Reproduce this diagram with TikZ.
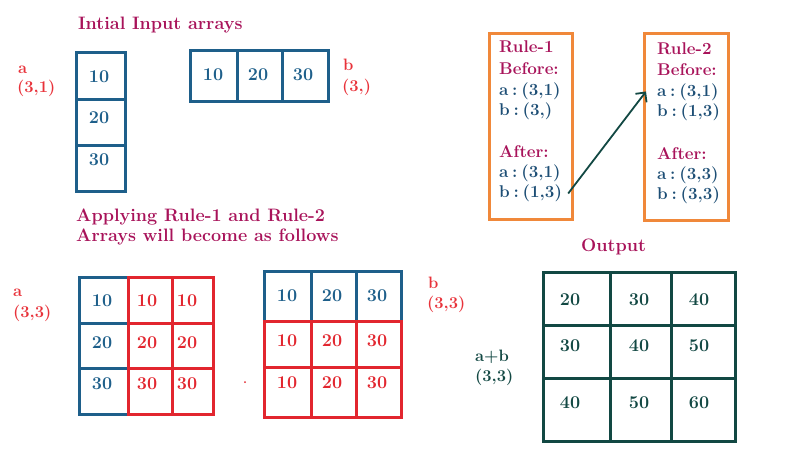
\documentclass[tikz,border=0pt]{standalone}
\usepackage{tikz}
\usepackage{xcolor}
\usetikzlibrary{arrows.meta}
\usetikzlibrary{positioning}

\definecolor{titlered}{HTML}{A8135A}
\definecolor{labelred}{HTML}{E8323A}
\definecolor{arrblue}{HTML}{1E5F8A}
\definecolor{arrred}{HTML}{E2262F}
\definecolor{ruleorange}{HTML}{F0883A}
\definecolor{ruleblue}{HTML}{1D4E75}
\definecolor{outteal}{HTML}{124843}

\newcommand{\colsp}{\hspace{.22em}:\hspace{.22em}}

\tikzset{
  every node/.style={inner sep=0pt, font=\fontsize{16.5}{19}\selectfont\bfseries},
  title/.style={anchor=west, text=titlered, font=\fontsize{18}{21}\selectfont\bfseries},
  shape label/.style={anchor=west, text=labelred},
  num/.style={text height=1.5ex, text depth=0pt, font=\fontsize{18}{21}\selectfont\bfseries},
  rule line/.style={anchor=west, text height=1.6ex, text depth=.4ex, font=\fontsize{17}{20}\selectfont\bfseries},
  blue box/.style={draw=arrblue, line width=3pt},
  red box/.style={draw=arrred, line width=3pt},
  rule box/.style={draw=ruleorange, line width=3pt, rectangle},
  out box/.style={draw=outteal, line width=3pt}
}

\begin{document}
\begin{tikzpicture}[x=1pt, y=-1pt, >={Straight Barb[length=7pt]}]

\useasboundingbox (0,0) rectangle (795,450);

% Headings
\node[title] (head-input) at (78,25) {Intial Input arrays};
\node[title] (head-apply) at (76,217) {Applying Rule-1 and Rule-2};
\node[title] (head-become) at (76,237) {Arrays will become as follows};
\node[title] (head-output) at (581,247) {Output};

% Input array a (3,1)
\foreach \ya/\yb in {52/99,99/145,145/191}
  \draw[blue box] (76,\ya) rectangle (125,\yb);
\foreach \t/\y [count=\i] in {10/79,20/120,30/162}
  \node[num, text=arrblue] (a31-\i) at (99,\y) {\t};
\node[shape label] (a31-name) at (18,70) {a};
\node[shape label] (a31-shape) at (17,88) {(3,1)};

% Input array b (3,)
\foreach \xa/\xb in {190/237,237/282,282/328}
  \draw[blue box] (\xa,50) rectangle (\xb,101);
\foreach \t/\x [count=\i] in {10/213,20/258,30/303}
  \node[num, text=arrblue] (b3-\i) at (\x,77) {\t};
\node[shape label] (b3-name) at (343,65) {b};
\node[shape label] (b3-shape) at (342,87) {(3,)};

% Rule-1
\node[rule box, minimum width=83pt, minimum height=186pt] (rule1) at (530.5,126) {};
\node[rule line, text=titlered] (r1-title) at (499,50) {Rule-1};
\node[rule line, text=titlered] (r1-before) at (499,72) {Before:};
\node[rule line, text=ruleblue] (r1-a1) at (499,93) {a\colsp(3,1)};
\node[rule line, text=ruleblue] (r1-b1) at (499,113) {b\colsp(3,)};
\node[rule line, text=titlered] (r1-after) at (499,155) {After:};
\node[rule line, text=ruleblue] (r1-a2) at (499,175) {a\colsp(3,1)};
\node[rule line, text=ruleblue] (r1-b2) at (499,195) {b\colsp(1,3)};

% Rule-2
\node[rule box, minimum width=84pt, minimum height=187pt] (rule2) at (686,126.5) {};
\node[rule line, text=titlered] (r2-title) at (657,52) {Rule-2};
\node[rule line, text=titlered] (r2-before) at (657,73) {Before:};
\node[rule line, text=ruleblue] (r2-a1) at (657,94) {a\colsp(3,1)};
\node[rule line, text=ruleblue] (r2-b1) at (657,114) {b\colsp(1,3)};
\node[rule line, text=titlered] (r2-after) at (657,157) {After:};
\node[rule line, text=ruleblue] (r2-a2) at (657,177) {a\colsp(3,3)};
\node[rule line, text=ruleblue] (r2-b2) at (657,197) {b\colsp(3,3)};

% Rule-1 to Rule-2
\draw[->, outteal, line width=1.8pt] ([xshift=6pt,yshift=-3pt]r1-b2.north east) -- ([xshift=-11pt,yshift=-2pt]r2-a1.north west);

% Broadcast array a (3,3)
\foreach \ya/\yb in {277/323,323/368,368/414}
  \draw[blue box] (79,\ya) rectangle (128,\yb);
\foreach \ya/\yb in {277/323,323/368,368/414}
  \foreach \xa/\xb in {128/172,172/213}
    \draw[red box] (\xa,\ya) rectangle (\xb,\yb);
\foreach \t/\y [count=\i] in {10/303,20/345,30/386}{
  \node[num, text=arrblue] (a33-\i-1) at (102,\y) {\t};
  \node[num, text=arrred] (a33-\i-2) at (147,\y) {\t};
  \node[num, text=arrred] (a33-\i-3) at (187,\y) {\t};
}
\node[shape label] (a33-name) at (13,293) {a};
\node[shape label] (a33-shape) at (13,313) {(3,3)};

% stray mark
\fill[arrred] (245,382) circle (1pt);

% Broadcast array b (3,3)
\foreach \xa/\xb in {264/311,311/356,356/401}
  \draw[blue box] (\xa,271) rectangle (\xb,321);
\foreach \ya/\yb in {321/367,367/417}
  \foreach \xa/\xb in {264/311,311/356,356/401}
    \draw[red box] (\xa,\ya) rectangle (\xb,\yb);
\foreach \t/\x [count=\j] in {10/287,20/332,30/377}{
  \node[num, text=arrblue] (b33-1-\j) at (\x,298) {\t};
  \node[num, text=arrred] (b33-2-\j) at (\x,343) {\t};
  \node[num, text=arrred] (b33-3-\j) at (\x,385) {\t};
}
\node[shape label] (b33-name) at (428,283) {b};
\node[shape label] (b33-shape) at (427,304) {(3,3)};

% Output a+b (3,3)
\foreach \ya/\yb in {272/325,325/378,378/441}
  \foreach \xa/\xb in {543/610,610/671,671/735}
    \draw[out box] (\xa,\ya) rectangle (\xb,\yb);
\foreach \p/\q/\r/\y [count=\i] in {20/30/40/302,30/40/50/348,40/50/60/405}{
  \node[num, text=outteal] (out-\i-1) at (570,\y) {\p};
  \node[num, text=outteal] (out-\i-2) at (639,\y) {\q};
  \node[num, text=outteal] (out-\i-3) at (699,\y) {\r};
}
\node[anchor=west, text=outteal] (out-name) at (475,357) {a+b};
\node[anchor=west, text=outteal] (out-shape) at (475,377) {(3,3)};

\end{tikzpicture}
\end{document}
